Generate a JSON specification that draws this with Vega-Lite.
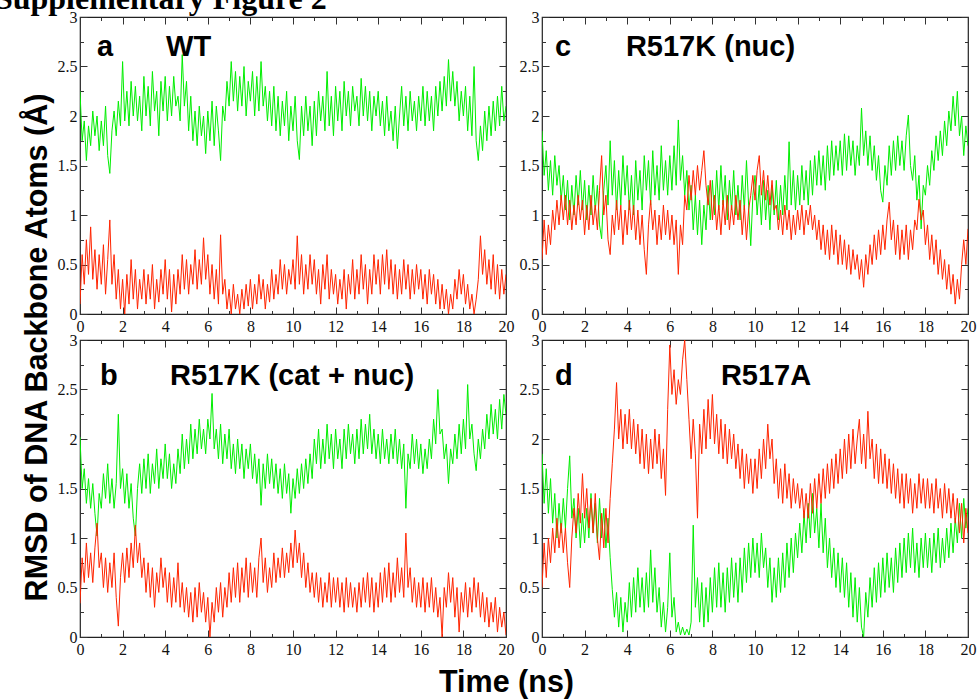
{
"$schema": "https://vega.github.io/schema/vega-lite/v6.json",
"background": "white",
"padding": {"left": -6, "top": -17, "right": 5, "bottom": 5},
"config": {
  "view": {"stroke": "#222", "strokeWidth": 1.2},
  "axis": {"domain": false, "grid": false, "labelFont": "Liberation Serif", "labelFontSize": 16, "labelColor": "#111", "tickColor": "#333", "tickWidth": 1, "labelFlush": false, "labelOverlap": false, "labelBound": false}
},
"datasets": {
"a": [
{"t":0,"g":2.25,"r":0.1},{"t":0.1,"g":1.75,"r":0.6},{"t":0.2,"g":1.95,"r":0.3},{"t":0.3,"g":1.55,"r":0.75},{"t":0.4,"g":1.9,"r":0.4},{"t":0.5,"g":1.7,"r":0.88},{"t":0.6,"g":2.05,"r":0.35},{"t":0.7,"g":1.8,"r":0.65},{"t":0.8,"g":2.0,"r":0.25},{"t":0.9,"g":1.65,"r":0.6},
{"t":1,"g":1.95,"r":0.3},{"t":1.1,"g":1.7,"r":0.7},{"t":1.2,"g":2.1,"r":0.2},{"t":1.3,"g":1.6,"r":0.55},{"t":1.4,"g":1.42,"r":0.95},{"t":1.5,"g":1.85,"r":0.3},{"t":1.6,"g":2.05,"r":0.6},{"t":1.7,"g":1.8,"r":0.15},{"t":1.8,"g":2.15,"r":0.45},{"t":1.9,"g":1.9,"r":0.05},
{"t":2,"g":2.55,"r":0.35},{"t":2.1,"g":1.95,"r":0.0},{"t":2.2,"g":2.25,"r":0.4},{"t":2.3,"g":1.9,"r":0.1},{"t":2.4,"g":2.35,"r":0.55},{"t":2.5,"g":2.0,"r":0.15},{"t":2.6,"g":2.3,"r":0.45},{"t":2.7,"g":1.95,"r":0.05},{"t":2.8,"g":2.2,"r":0.35},{"t":2.9,"g":1.85,"r":0.15},
{"t":3,"g":2.4,"r":0.45},{"t":3.1,"g":2.0,"r":0.1},{"t":3.2,"g":2.3,"r":0.4},{"t":3.3,"g":1.9,"r":0.15},{"t":3.4,"g":2.45,"r":0.5},{"t":3.5,"g":2.05,"r":0.05},{"t":3.6,"g":2.25,"r":0.35},{"t":3.7,"g":1.8,"r":0.12},{"t":3.8,"g":2.35,"r":0.45},{"t":3.9,"g":2.05,"r":0.2},
{"t":4,"g":2.4,"r":0.55},{"t":4.1,"g":1.95,"r":0.15},{"t":4.2,"g":2.3,"r":0.45},{"t":4.3,"g":2.0,"r":0.02},{"t":4.4,"g":2.4,"r":0.4},{"t":4.5,"g":2.1,"r":0.1},{"t":4.6,"g":2.2,"r":0.45},{"t":4.7,"g":1.95,"r":0.2},{"t":4.8,"g":2.62,"r":0.6},{"t":4.9,"g":2.1,"r":0.25},
{"t":5,"g":2.35,"r":0.55},{"t":5.1,"g":1.85,"r":0.2},{"t":5.2,"g":2.2,"r":0.5},{"t":5.3,"g":1.75,"r":0.3},{"t":5.4,"g":2.05,"r":0.65},{"t":5.5,"g":1.7,"r":0.25},{"t":5.6,"g":2.1,"r":0.55},{"t":5.7,"g":1.8,"r":0.3},{"t":5.8,"g":2.0,"r":0.77},{"t":5.9,"g":1.62,"r":0.35},
{"t":6,"g":2.05,"r":0.6},{"t":6.1,"g":1.75,"r":0.2},{"t":6.2,"g":2.15,"r":0.5},{"t":6.3,"g":1.7,"r":0.15},{"t":6.4,"g":2.1,"r":0.45},{"t":6.5,"g":1.85,"r":0.1},{"t":6.6,"g":1.55,"r":0.8},{"t":6.7,"g":2.1,"r":0.2},{"t":6.8,"g":1.95,"r":0.35},{"t":6.9,"g":2.35,"r":0.05},
{"t":7,"g":2.1,"r":0.25},{"t":7.1,"g":2.55,"r":0.0},{"t":7.2,"g":2.15,"r":0.3},{"t":7.3,"g":2.45,"r":0.05},{"t":7.4,"g":2.05,"r":0.2},{"t":7.5,"g":2.4,"r":0.0},{"t":7.6,"g":2.1,"r":0.25},{"t":7.7,"g":2.5,"r":0.05},{"t":7.8,"g":2.0,"r":0.3},{"t":7.9,"g":2.35,"r":0.08},
{"t":8,"g":2.15,"r":0.35},{"t":8.1,"g":2.45,"r":0.05},{"t":8.2,"g":2.0,"r":0.3},{"t":8.3,"g":2.4,"r":0.1},{"t":8.4,"g":2.05,"r":0.4},{"t":8.5,"g":2.55,"r":0.15},{"t":8.6,"g":2.1,"r":0.35},{"t":8.7,"g":2.3,"r":0.05},{"t":8.8,"g":1.95,"r":0.3},{"t":8.9,"g":2.25,"r":0.12},
{"t":9,"g":1.9,"r":0.45},{"t":9.1,"g":2.3,"r":0.15},{"t":9.2,"g":1.85,"r":0.4},{"t":9.3,"g":2.2,"r":0.2},{"t":9.4,"g":1.8,"r":0.55},{"t":9.5,"g":2.15,"r":0.25},{"t":9.6,"g":1.9,"r":0.5},{"t":9.7,"g":2.25,"r":0.2},{"t":9.8,"g":1.75,"r":0.45},{"t":9.9,"g":2.1,"r":0.3},
{"t":10,"g":1.85,"r":0.55},{"t":10.1,"g":2.2,"r":0.25},{"t":10.2,"g":1.75,"r":0.79},{"t":10.3,"g":1.56,"r":0.3},{"t":10.4,"g":2.1,"r":0.6},{"t":10.5,"g":1.8,"r":0.2},{"t":10.6,"g":2.2,"r":0.5},{"t":10.7,"g":1.85,"r":0.25},{"t":10.8,"g":2.1,"r":0.6},{"t":10.9,"g":1.7,"r":0.3},
{"t":11,"g":2.15,"r":0.55},{"t":11.1,"g":1.8,"r":0.2},{"t":11.2,"g":2.25,"r":0.45},{"t":11.3,"g":1.95,"r":0.1},{"t":11.4,"g":2.2,"r":0.5},{"t":11.5,"g":1.85,"r":0.25},{"t":11.6,"g":2.45,"r":0.6},{"t":11.7,"g":1.9,"r":0.15},{"t":11.8,"g":2.2,"r":0.45},{"t":11.9,"g":1.8,"r":0.2},
{"t":12,"g":2.3,"r":0.4},{"t":12.1,"g":1.95,"r":0.1},{"t":12.2,"g":2.25,"r":0.35},{"t":12.3,"g":1.85,"r":0.15},{"t":12.4,"g":2.35,"r":0.45},{"t":12.5,"g":2.0,"r":0.05},{"t":12.6,"g":2.25,"r":0.4},{"t":12.7,"g":1.9,"r":0.2},{"t":12.8,"g":2.3,"r":0.55},{"t":12.9,"g":2.05,"r":0.15},
{"t":13,"g":2.2,"r":0.45},{"t":13.1,"g":1.9,"r":0.2},{"t":13.2,"g":2.38,"r":0.6},{"t":13.3,"g":2.0,"r":0.25},{"t":13.4,"g":2.3,"r":0.5},{"t":13.5,"g":1.95,"r":0.1},{"t":13.6,"g":2.25,"r":0.45},{"t":13.7,"g":1.85,"r":0.2},{"t":13.8,"g":2.2,"r":0.6},{"t":13.9,"g":2.0,"r":0.3},
{"t":14,"g":2.25,"r":0.55},{"t":14.1,"g":1.9,"r":0.2},{"t":14.2,"g":2.15,"r":0.6},{"t":14.3,"g":1.8,"r":0.3},{"t":14.4,"g":2.2,"r":0.65},{"t":14.5,"g":1.85,"r":0.25},{"t":14.6,"g":2.05,"r":0.55},{"t":14.7,"g":1.75,"r":0.2},{"t":14.8,"g":2.1,"r":0.5},{"t":14.9,"g":1.67,"r":0.15},
{"t":15,"g":2.0,"r":0.45},{"t":15.1,"g":2.3,"r":0.2},{"t":15.2,"g":1.9,"r":0.55},{"t":15.3,"g":2.2,"r":0.25},{"t":15.4,"g":1.85,"r":0.5},{"t":15.5,"g":2.25,"r":0.15},{"t":15.6,"g":1.95,"r":0.45},{"t":15.7,"g":2.15,"r":0.2},{"t":15.8,"g":1.85,"r":0.5},{"t":15.9,"g":2.2,"r":0.25},
{"t":16,"g":1.95,"r":0.45},{"t":16.1,"g":2.3,"r":0.15},{"t":16.2,"g":1.9,"r":0.4},{"t":16.3,"g":2.25,"r":0.1},{"t":16.4,"g":1.95,"r":0.45},{"t":16.5,"g":2.2,"r":0.2},{"t":16.6,"g":1.85,"r":0.4},{"t":16.7,"g":2.3,"r":0.1},{"t":16.8,"g":2.0,"r":0.35},{"t":16.9,"g":2.35,"r":0.05},
{"t":17,"g":2.05,"r":0.3},{"t":17.1,"g":2.4,"r":0.05},{"t":17.2,"g":2.1,"r":0.25},{"t":17.3,"g":2.57,"r":0.0},{"t":17.4,"g":2.15,"r":0.2},{"t":17.5,"g":2.45,"r":0.05},{"t":17.6,"g":2.1,"r":0.35},{"t":17.7,"g":2.35,"r":0.15},{"t":17.8,"g":1.95,"r":0.45},{"t":17.9,"g":2.25,"r":0.2},
{"t":18,"g":2.0,"r":0.4},{"t":18.1,"g":2.3,"r":0.1},{"t":18.2,"g":1.85,"r":0.3},{"t":18.3,"g":2.2,"r":0.05},{"t":18.4,"g":1.8,"r":0.2},{"t":18.5,"g":2.5,"r":0.0},{"t":18.6,"g":1.75,"r":0.15},{"t":18.7,"g":1.55,"r":0.35},{"t":18.8,"g":1.9,"r":0.79},{"t":18.9,"g":1.65,"r":0.4},
{"t":19,"g":2.05,"r":0.65},{"t":19.1,"g":1.75,"r":0.3},{"t":19.2,"g":2.1,"r":0.55},{"t":19.3,"g":1.8,"r":0.25},{"t":19.4,"g":2.15,"r":0.6},{"t":19.5,"g":1.85,"r":0.2},{"t":19.6,"g":2.2,"r":0.5},{"t":19.7,"g":1.9,"r":0.15},{"t":19.8,"g":2.3,"r":0.45},{"t":19.9,"g":1.95,"r":0.2},
{"t":20,"g":2.1,"r":0.4}
],
"b": [
{"t":0,"g":2.02,"r":0.34},{"t":0.1,"g":1.5,"r":0.8},{"t":0.2,"g":1.7,"r":0.55},{"t":0.3,"g":1.35,"r":0.95},{"t":0.4,"g":1.6,"r":0.6},{"t":0.5,"g":1.3,"r":0.85},{"t":0.6,"g":1.55,"r":0.55},{"t":0.7,"g":1.25,"r":0.9},{"t":0.8,"g":1.02,"r":1.15},{"t":0.9,"g":1.45,"r":0.7},
{"t":1,"g":1.3,"r":0.85},{"t":1.1,"g":1.65,"r":0.5},{"t":1.2,"g":1.4,"r":0.8},{"t":1.3,"g":1.75,"r":0.45},{"t":1.4,"g":1.35,"r":0.75},{"t":1.5,"g":1.6,"r":0.5},{"t":1.6,"g":1.3,"r":0.85},{"t":1.7,"g":1.55,"r":0.4},{"t":1.8,"g":2.25,"r":0.11},{"t":1.9,"g":1.5,"r":0.6},
{"t":2,"g":1.7,"r":0.85},{"t":2.1,"g":1.35,"r":0.55},{"t":2.2,"g":1.65,"r":0.9},{"t":2.3,"g":1.3,"r":0.6},{"t":2.4,"g":1.55,"r":0.95},{"t":2.5,"g":1.2,"r":0.7},{"t":2.6,"g":1.02,"r":1.13},{"t":2.7,"g":1.5,"r":0.75},{"t":2.8,"g":1.75,"r":0.95},{"t":2.9,"g":1.45,"r":0.6},
{"t":3,"g":1.8,"r":0.8},{"t":3.1,"g":1.5,"r":0.45},{"t":3.2,"g":1.85,"r":0.75},{"t":3.3,"g":1.45,"r":0.4},{"t":3.4,"g":1.75,"r":0.7},{"t":3.5,"g":1.55,"r":0.3},{"t":3.6,"g":1.9,"r":0.65},{"t":3.7,"g":1.5,"r":0.45},{"t":3.8,"g":1.8,"r":0.8},{"t":3.9,"g":1.6,"r":0.5},
{"t":4,"g":1.95,"r":0.7},{"t":4.1,"g":1.6,"r":0.35},{"t":4.2,"g":1.85,"r":0.65},{"t":4.3,"g":1.5,"r":0.3},{"t":4.4,"g":1.75,"r":0.6},{"t":4.5,"g":1.55,"r":0.35},{"t":4.6,"g":1.9,"r":0.75},{"t":4.7,"g":1.65,"r":0.3},{"t":4.8,"g":2.05,"r":0.55},{"t":4.9,"g":1.7,"r":0.25},
{"t":5,"g":2.0,"r":0.5},{"t":5.1,"g":1.75,"r":0.2},{"t":5.2,"g":2.15,"r":0.45},{"t":5.3,"g":1.8,"r":0.15},{"t":5.4,"g":2.1,"r":0.5},{"t":5.5,"g":1.85,"r":0.2},{"t":5.6,"g":2.2,"r":0.55},{"t":5.7,"g":1.9,"r":0.25},{"t":5.8,"g":2.1,"r":0.45},{"t":5.9,"g":1.85,"r":0.15},
{"t":6,"g":2.2,"r":0.4},{"t":6.1,"g":2.0,"r":0.0},{"t":6.2,"g":2.46,"r":0.35},{"t":6.3,"g":1.9,"r":0.15},{"t":6.4,"g":2.1,"r":0.5},{"t":6.5,"g":1.8,"r":0.25},{"t":6.6,"g":2.15,"r":0.55},{"t":6.7,"g":1.75,"r":0.2},{"t":6.8,"g":2.05,"r":0.5},{"t":6.9,"g":1.8,"r":0.3},
{"t":7,"g":2.1,"r":0.65},{"t":7.1,"g":1.7,"r":0.35},{"t":7.2,"g":1.95,"r":0.7},{"t":7.3,"g":1.65,"r":0.4},{"t":7.4,"g":2.0,"r":0.75},{"t":7.5,"g":1.7,"r":0.35},{"t":7.6,"g":1.95,"r":0.7},{"t":7.7,"g":1.6,"r":0.45},{"t":7.8,"g":1.9,"r":0.8},{"t":7.9,"g":1.7,"r":0.4},
{"t":8,"g":1.95,"r":0.75},{"t":8.1,"g":1.6,"r":0.45},{"t":8.2,"g":1.85,"r":0.7},{"t":8.3,"g":1.55,"r":0.4},{"t":8.4,"g":1.8,"r":0.8},{"t":8.5,"g":1.33,"r":1.0},{"t":8.6,"g":1.75,"r":0.55},{"t":8.7,"g":1.5,"r":0.8},{"t":8.8,"g":1.85,"r":0.45},{"t":8.9,"g":1.55,"r":0.7},
{"t":9,"g":1.8,"r":0.5},{"t":9.1,"g":1.5,"r":0.85},{"t":9.2,"g":1.75,"r":0.55},{"t":9.3,"g":1.45,"r":0.8},{"t":9.4,"g":1.7,"r":0.6},{"t":9.5,"g":1.4,"r":0.9},{"t":9.6,"g":1.75,"r":0.6},{"t":9.7,"g":1.45,"r":0.85},{"t":9.8,"g":1.65,"r":0.65},{"t":9.9,"g":1.25,"r":0.95},
{"t":10,"g":1.6,"r":0.7},{"t":10.1,"g":1.4,"r":1.08},{"t":10.2,"g":1.7,"r":0.75},{"t":10.3,"g":1.45,"r":0.95},{"t":10.4,"g":1.75,"r":0.6},{"t":10.5,"g":1.5,"r":0.85},{"t":10.6,"g":1.8,"r":0.5},{"t":10.7,"g":1.55,"r":0.75},{"t":10.8,"g":1.85,"r":0.45},{"t":10.9,"g":1.6,"r":0.65},
{"t":11,"g":2.0,"r":0.4},{"t":11.1,"g":1.75,"r":0.65},{"t":11.2,"g":2.1,"r":0.35},{"t":11.3,"g":1.7,"r":0.6},{"t":11.4,"g":2.0,"r":0.3},{"t":11.5,"g":1.75,"r":0.55},{"t":11.6,"g":2.15,"r":0.35},{"t":11.7,"g":1.8,"r":0.65},{"t":11.8,"g":2.05,"r":0.3},{"t":11.9,"g":1.7,"r":0.6},
{"t":12,"g":2.1,"r":0.35},{"t":12.1,"g":1.8,"r":0.6},{"t":12.2,"g":2.0,"r":0.3},{"t":12.3,"g":1.7,"r":0.55},{"t":12.4,"g":2.1,"r":0.25},{"t":12.5,"g":1.8,"r":0.6},{"t":12.6,"g":2.15,"r":0.3},{"t":12.7,"g":1.85,"r":0.55},{"t":12.8,"g":2.05,"r":0.3},{"t":12.9,"g":1.75,"r":0.5},
{"t":13,"g":2.1,"r":0.25},{"t":13.1,"g":1.8,"r":0.55},{"t":13.2,"g":2.2,"r":0.3},{"t":13.3,"g":1.85,"r":0.6},{"t":13.4,"g":2.15,"r":0.35},{"t":13.5,"g":1.9,"r":0.65},{"t":13.6,"g":2.25,"r":0.3},{"t":13.7,"g":1.85,"r":0.6},{"t":13.8,"g":2.1,"r":0.25},{"t":13.9,"g":1.8,"r":0.55},
{"t":14,"g":2.05,"r":0.3},{"t":14.1,"g":1.75,"r":0.65},{"t":14.2,"g":2.1,"r":0.35},{"t":14.3,"g":1.8,"r":0.7},{"t":14.4,"g":2.0,"r":0.4},{"t":14.5,"g":1.75,"r":0.75},{"t":14.6,"g":2.05,"r":0.35},{"t":14.7,"g":1.8,"r":0.65},{"t":14.8,"g":2.1,"r":0.4},{"t":14.9,"g":1.75,"r":0.8},
{"t":15,"g":2.0,"r":0.45},{"t":15.1,"g":1.7,"r":0.7},{"t":15.2,"g":1.95,"r":0.4},{"t":15.3,"g":1.3,"r":1.05},{"t":15.4,"g":1.85,"r":0.5},{"t":15.5,"g":1.7,"r":0.7},{"t":15.6,"g":2.05,"r":0.35},{"t":15.7,"g":1.75,"r":0.6},{"t":15.8,"g":2.0,"r":0.3},{"t":15.9,"g":1.7,"r":0.55},
{"t":16,"g":1.95,"r":0.3},{"t":16.1,"g":1.65,"r":0.6},{"t":16.2,"g":1.9,"r":0.25},{"t":16.3,"g":1.7,"r":0.55},{"t":16.4,"g":2.0,"r":0.3},{"t":16.5,"g":1.8,"r":0.6},{"t":16.6,"g":2.2,"r":0.25},{"t":16.7,"g":1.95,"r":0.5},{"t":16.8,"g":2.5,"r":0.2},{"t":16.9,"g":2.05,"r":0.4},
{"t":17,"g":2.1,"r":0.0},{"t":17.1,"g":1.8,"r":0.5},{"t":17.2,"g":1.95,"r":0.3},{"t":17.3,"g":1.55,"r":0.65},{"t":17.4,"g":1.9,"r":0.35},{"t":17.5,"g":1.75,"r":0.6},{"t":17.6,"g":2.05,"r":0.2},{"t":17.7,"g":1.8,"r":0.5},{"t":17.8,"g":2.15,"r":0.05},{"t":17.9,"g":1.85,"r":0.45},
{"t":18,"g":2.2,"r":0.25},{"t":18.1,"g":1.9,"r":0.55},{"t":18.2,"g":2.55,"r":0.2},{"t":18.3,"g":2.0,"r":0.5},{"t":18.4,"g":2.15,"r":0.25},{"t":18.5,"g":1.85,"r":0.6},{"t":18.6,"g":1.68,"r":0.3},{"t":18.7,"g":2.0,"r":0.55},{"t":18.8,"g":1.8,"r":0.2},{"t":18.9,"g":2.1,"r":0.45},
{"t":19,"g":1.9,"r":0.15},{"t":19.1,"g":2.25,"r":0.4},{"t":19.2,"g":2.0,"r":0.1},{"t":19.3,"g":2.35,"r":0.35},{"t":19.4,"g":2.05,"r":0.15},{"t":19.5,"g":2.3,"r":0.4},{"t":19.6,"g":2.0,"r":0.05},{"t":19.7,"g":2.4,"r":0.3},{"t":19.8,"g":2.1,"r":0.1},{"t":19.9,"g":2.45,"r":0.25},
{"t":20,"g":2.25,"r":0.02}
],
"c": [
{"t":0,"g":1.85,"r":0.55},{"t":0.1,"g":1.4,"r":0.95},{"t":0.2,"g":1.65,"r":0.6},{"t":0.3,"g":1.25,"r":0.9},{"t":0.4,"g":1.55,"r":0.7},{"t":0.5,"g":1.2,"r":1.05},{"t":0.6,"g":1.6,"r":0.85},{"t":0.7,"g":1.3,"r":1.15},{"t":0.8,"g":1.5,"r":0.9},{"t":0.9,"g":1.15,"r":1.2},
{"t":1,"g":1.4,"r":0.95},{"t":1.1,"g":1.05,"r":1.2},{"t":1.2,"g":1.35,"r":0.9},{"t":1.3,"g":0.95,"r":1.15},{"t":1.4,"g":1.3,"r":0.85},{"t":1.5,"g":1.0,"r":1.1},{"t":1.6,"g":1.4,"r":0.9},{"t":1.7,"g":1.1,"r":1.2},{"t":1.8,"g":1.45,"r":0.95},{"t":1.9,"g":1.05,"r":1.15},
{"t":2,"g":1.35,"r":0.8},{"t":2.1,"g":0.95,"r":1.1},{"t":2.2,"g":1.3,"r":0.85},{"t":2.3,"g":1.0,"r":1.2},{"t":2.4,"g":1.4,"r":0.9},{"t":2.5,"g":1.05,"r":1.1},{"t":2.6,"g":1.3,"r":0.85},{"t":2.7,"g":0.9,"r":1.25},{"t":2.8,"g":0.76,"r":1.6},{"t":2.9,"g":1.25,"r":1.0},
{"t":3,"g":1.5,"r":1.2},{"t":3.1,"g":1.1,"r":0.75},{"t":3.2,"g":1.75,"r":0.6},{"t":3.3,"g":1.2,"r":1.0},{"t":3.4,"g":1.55,"r":0.8},{"t":3.5,"g":1.05,"r":1.15},{"t":3.6,"g":1.45,"r":0.85},{"t":3.7,"g":1.1,"r":1.1},{"t":3.8,"g":1.6,"r":0.7},{"t":3.9,"g":1.2,"r":1.05},
{"t":4,"g":1.5,"r":0.8},{"t":4.1,"g":1.05,"r":1.15},{"t":4.2,"g":1.4,"r":0.85},{"t":4.3,"g":1.0,"r":1.1},{"t":4.4,"g":1.55,"r":0.75},{"t":4.5,"g":1.15,"r":1.05},{"t":4.6,"g":1.45,"r":0.7},{"t":4.7,"g":1.05,"r":1.0},{"t":4.8,"g":1.6,"r":0.65},{"t":4.9,"g":1.25,"r":0.4},
{"t":5,"g":1.55,"r":0.9},{"t":5.1,"g":1.1,"r":1.15},{"t":5.2,"g":1.65,"r":0.85},{"t":5.3,"g":1.2,"r":1.05},{"t":5.4,"g":1.5,"r":0.7},{"t":5.5,"g":1.15,"r":1.0},{"t":5.6,"g":1.7,"r":0.75},{"t":5.7,"g":1.25,"r":1.1},{"t":5.8,"g":1.55,"r":0.8},{"t":5.9,"g":1.2,"r":1.05},
{"t":6,"g":1.6,"r":0.75},{"t":6.1,"g":1.25,"r":1.0},{"t":6.2,"g":1.7,"r":0.7},{"t":6.3,"g":1.3,"r":0.95},{"t":6.4,"g":1.96,"r":0.4},{"t":6.5,"g":1.35,"r":0.9},{"t":6.6,"g":1.6,"r":0.7},{"t":6.7,"g":1.2,"r":1.2},{"t":6.8,"g":1.45,"r":1.05},{"t":6.9,"g":1.05,"r":1.4},
{"t":7,"g":1.3,"r":1.15},{"t":7.1,"g":0.85,"r":1.45},{"t":7.2,"g":1.2,"r":1.2},{"t":7.3,"g":0.8,"r":1.5},{"t":7.4,"g":1.15,"r":1.25},{"t":7.5,"g":0.7,"r":1.45},{"t":7.6,"g":1.1,"r":1.65},{"t":7.7,"g":0.85,"r":1.3},{"t":7.8,"g":1.3,"r":1.1},{"t":7.9,"g":0.95,"r":1.35},
{"t":8,"g":1.35,"r":0.95},{"t":8.1,"g":1.0,"r":1.2},{"t":8.2,"g":1.45,"r":0.85},{"t":8.3,"g":1.05,"r":1.1},{"t":8.4,"g":1.5,"r":0.8},{"t":8.5,"g":1.1,"r":1.15},{"t":8.6,"g":1.4,"r":0.9},{"t":8.7,"g":0.95,"r":1.2},{"t":8.8,"g":1.35,"r":0.85},{"t":8.9,"g":1.05,"r":1.1},
{"t":9,"g":1.45,"r":0.9},{"t":9.1,"g":1.0,"r":1.2},{"t":9.2,"g":1.3,"r":0.95},{"t":9.3,"g":0.95,"r":1.15},{"t":9.4,"g":1.4,"r":0.8},{"t":9.5,"g":1.05,"r":1.1},{"t":9.6,"g":1.55,"r":0.75},{"t":9.7,"g":1.1,"r":1.05},{"t":9.8,"g":0.69,"r":1.2},{"t":9.9,"g":1.2,"r":1.4},
{"t":10,"g":1.4,"r":1.15},{"t":10.1,"g":1.0,"r":1.45},{"t":10.2,"g":1.3,"r":1.6},{"t":10.3,"g":0.9,"r":1.2},{"t":10.4,"g":1.35,"r":1.45},{"t":10.5,"g":0.95,"r":1.15},{"t":10.6,"g":1.25,"r":1.4},{"t":10.7,"g":0.85,"r":1.1},{"t":10.8,"g":1.3,"r":1.35},{"t":10.9,"g":1.0,"r":1.05},
{"t":11,"g":1.35,"r":1.1},{"t":11.1,"g":0.95,"r":0.85},{"t":11.2,"g":1.3,"r":1.05},{"t":11.3,"g":1.0,"r":0.8},{"t":11.4,"g":1.4,"r":1.1},{"t":11.5,"g":1.05,"r":0.85},{"t":11.6,"g":1.74,"r":1.05},{"t":11.7,"g":1.1,"r":0.75},{"t":11.8,"g":1.45,"r":1.0},{"t":11.9,"g":1.05,"r":0.8},
{"t":12,"g":1.4,"r":1.05},{"t":12.1,"g":1.1,"r":0.85},{"t":12.2,"g":1.5,"r":1.1},{"t":12.3,"g":1.15,"r":0.8},{"t":12.4,"g":1.45,"r":1.05},{"t":12.5,"g":1.1,"r":0.9},{"t":12.6,"g":1.55,"r":1.1},{"t":12.7,"g":1.2,"r":0.85},{"t":12.8,"g":1.6,"r":1.0},{"t":12.9,"g":1.3,"r":0.75},
{"t":13,"g":1.65,"r":0.95},{"t":13.1,"g":1.3,"r":0.65},{"t":13.2,"g":1.6,"r":0.9},{"t":13.3,"g":1.25,"r":0.6},{"t":13.4,"g":1.7,"r":0.85},{"t":13.5,"g":1.35,"r":0.55},{"t":13.6,"g":1.75,"r":0.9},{"t":13.7,"g":1.4,"r":0.6},{"t":13.8,"g":1.7,"r":0.85},{"t":13.9,"g":1.45,"r":0.5},
{"t":14,"g":1.75,"r":0.8},{"t":14.1,"g":1.4,"r":0.5},{"t":14.2,"g":1.82,"r":0.75},{"t":14.3,"g":1.45,"r":0.45},{"t":14.4,"g":1.8,"r":0.7},{"t":14.5,"g":1.5,"r":0.4},{"t":14.6,"g":1.75,"r":0.65},{"t":14.7,"g":1.4,"r":0.45},{"t":14.8,"g":1.7,"r":0.6},{"t":14.9,"g":1.5,"r":0.35},
{"t":15,"g":2.08,"r":0.55},{"t":15.1,"g":1.6,"r":0.27},{"t":15.2,"g":1.85,"r":0.6},{"t":15.3,"g":1.5,"r":0.4},{"t":15.4,"g":1.8,"r":0.7},{"t":15.5,"g":1.45,"r":0.5},{"t":15.6,"g":1.7,"r":0.8},{"t":15.7,"g":1.35,"r":0.55},{"t":15.8,"g":1.6,"r":0.85},{"t":15.9,"g":1.25,"r":0.6},
{"t":16,"g":1.13,"r":0.9},{"t":16.1,"g":1.5,"r":0.65},{"t":16.2,"g":1.3,"r":0.95},{"t":16.3,"g":1.7,"r":1.13},{"t":16.4,"g":1.4,"r":0.75},{"t":16.5,"g":1.75,"r":0.95},{"t":16.6,"g":1.45,"r":0.6},{"t":16.7,"g":1.8,"r":0.9},{"t":16.8,"g":1.5,"r":0.55},{"t":16.9,"g":1.75,"r":0.85},
{"t":17,"g":1.45,"r":0.6},{"t":17.1,"g":1.8,"r":0.9},{"t":17.2,"g":2.01,"r":0.55},{"t":17.3,"g":1.5,"r":0.85},{"t":17.4,"g":1.35,"r":0.65},{"t":17.5,"g":1.6,"r":0.95},{"t":17.6,"g":1.15,"r":0.85},{"t":17.7,"g":1.4,"r":1.16},{"t":17.8,"g":0.86,"r":0.95},{"t":17.9,"g":1.3,"r":1.05},
{"t":18,"g":1.2,"r":0.7},{"t":18.1,"g":1.5,"r":0.9},{"t":18.2,"g":1.3,"r":0.55},{"t":18.3,"g":1.65,"r":0.8},{"t":18.4,"g":1.45,"r":0.5},{"t":18.5,"g":1.8,"r":0.75},{"t":18.6,"g":1.55,"r":0.4},{"t":18.7,"g":1.85,"r":0.65},{"t":18.8,"g":1.6,"r":0.35},{"t":18.9,"g":1.95,"r":0.55},
{"t":19,"g":1.7,"r":0.25},{"t":19.1,"g":2.05,"r":0.5},{"t":19.2,"g":1.85,"r":0.2},{"t":19.3,"g":2.2,"r":0.4},{"t":19.4,"g":1.9,"r":0.1},{"t":19.5,"g":2.25,"r":0.35},{"t":19.6,"g":1.8,"r":0.15},{"t":19.7,"g":2.0,"r":0.5},{"t":19.8,"g":1.6,"r":0.75},{"t":19.9,"g":1.9,"r":0.5},
{"t":20,"g":1.7,"r":0.86}
],
"d": [
{"t":0,"g":1.85,"r":0.5},{"t":0.1,"g":1.35,"r":0.95},{"t":0.2,"g":1.7,"r":0.6},{"t":0.3,"g":1.25,"r":1.0},{"t":0.4,"g":1.6,"r":0.75},{"t":0.5,"g":1.15,"r":1.1},{"t":0.6,"g":1.45,"r":0.85},{"t":0.7,"g":1.0,"r":1.2},{"t":0.8,"g":1.35,"r":0.9},{"t":0.9,"g":1.05,"r":1.15},
{"t":1,"g":1.4,"r":0.85},{"t":1.1,"g":1.1,"r":1.1},{"t":1.2,"g":1.5,"r":0.75},{"t":1.3,"g":1.83,"r":0.5},{"t":1.4,"g":1.2,"r":1.0},{"t":1.5,"g":1.4,"r":1.3},{"t":1.6,"g":1.0,"r":1.05},{"t":1.7,"g":1.3,"r":1.45},{"t":1.8,"g":0.9,"r":1.15},{"t":1.9,"g":1.25,"r":1.65},
{"t":2,"g":0.95,"r":1.2},{"t":2.1,"g":1.3,"r":1.5},{"t":2.2,"g":1.0,"r":1.1},{"t":2.3,"g":1.45,"r":1.4},{"t":2.4,"g":1.05,"r":1.05},{"t":2.5,"g":1.35,"r":1.45},{"t":2.6,"g":0.95,"r":1.0},{"t":2.7,"g":1.4,"r":0.78},{"t":2.8,"g":1.0,"r":1.25},{"t":2.9,"g":1.3,"r":0.9},
{"t":3,"g":0.9,"r":1.3},{"t":3.1,"g":1.2,"r":0.95},{"t":3.2,"g":0.8,"r":1.4},{"t":3.3,"g":0.48,"r":1.75},{"t":3.4,"g":0.2,"r":2.1},{"t":3.5,"g":0.45,"r":2.57},{"t":3.6,"g":0.1,"r":2.0},{"t":3.7,"g":0.4,"r":2.3},{"t":3.8,"g":0.05,"r":1.9},{"t":3.9,"g":0.35,"r":2.25},
{"t":4,"g":0.15,"r":1.95},{"t":4.1,"g":0.55,"r":2.3},{"t":4.2,"g":0.2,"r":1.9},{"t":4.3,"g":0.6,"r":2.2},{"t":4.4,"g":0.25,"r":1.85},{"t":4.5,"g":0.7,"r":2.15},{"t":4.6,"g":0.3,"r":1.75},{"t":4.7,"g":0.6,"r":2.1},{"t":4.8,"g":0.25,"r":1.7},{"t":4.9,"g":0.65,"r":2.05},
{"t":5,"g":0.3,"r":1.65},{"t":5.1,"g":0.88,"r":2.0},{"t":5.2,"g":0.35,"r":1.7},{"t":5.3,"g":0.7,"r":2.1},{"t":5.4,"g":0.25,"r":1.75},{"t":5.5,"g":0.5,"r":2.05},{"t":5.6,"g":0.1,"r":1.6},{"t":5.7,"g":0.35,"r":1.9},{"t":5.8,"g":0.05,"r":1.43},{"t":5.9,"g":0.3,"r":2.3},
{"t":6,"g":0.85,"r":2.95},{"t":6.1,"g":0.2,"r":2.45},{"t":6.2,"g":0.4,"r":2.7},{"t":6.3,"g":0.05,"r":2.35},{"t":6.4,"g":0.15,"r":2.6},{"t":6.5,"g":0.02,"r":2.45},{"t":6.6,"g":0.1,"r":2.8},{"t":6.7,"g":0.02,"r":3.0},{"t":6.8,"g":0.08,"r":2.6},{"t":6.9,"g":0.02,"r":2.2},
{"t":7,"g":0.15,"r":1.8},{"t":7.1,"g":1.13,"r":2.2},{"t":7.2,"g":0.3,"r":1.85},{"t":7.3,"g":0.6,"r":1.2},{"t":7.4,"g":0.15,"r":2.15},{"t":7.5,"g":0.55,"r":1.85},{"t":7.6,"g":0.1,"r":2.3},{"t":7.7,"g":0.5,"r":1.9},{"t":7.8,"g":0.15,"r":2.4},{"t":7.9,"g":0.6,"r":2.0},
{"t":8,"g":0.25,"r":2.45},{"t":8.1,"g":0.7,"r":1.95},{"t":8.2,"g":0.3,"r":2.25},{"t":8.3,"g":0.75,"r":1.85},{"t":8.4,"g":0.3,"r":2.2},{"t":8.5,"g":0.65,"r":1.8},{"t":8.6,"g":0.25,"r":2.15},{"t":8.7,"g":0.7,"r":1.75},{"t":8.8,"g":0.35,"r":2.1},{"t":8.9,"g":0.8,"r":1.8},
{"t":9,"g":0.4,"r":2.05},{"t":9.1,"g":0.75,"r":1.7},{"t":9.2,"g":0.35,"r":1.95},{"t":9.3,"g":0.8,"r":1.6},{"t":9.4,"g":0.45,"r":1.9},{"t":9.5,"g":0.9,"r":1.5},{"t":9.6,"g":0.55,"r":1.85},{"t":9.7,"g":0.95,"r":1.55},{"t":9.8,"g":0.6,"r":1.8},{"t":9.9,"g":1.0,"r":1.45},
{"t":10,"g":0.65,"r":1.8},{"t":10.1,"g":0.95,"r":1.5},{"t":10.2,"g":0.6,"r":1.9},{"t":10.3,"g":1.05,"r":1.6},{"t":10.4,"g":0.7,"r":2.0},{"t":10.5,"g":0.9,"r":1.7},{"t":10.6,"g":0.5,"r":2.15},{"t":10.7,"g":0.8,"r":1.8},{"t":10.8,"g":0.35,"r":2.0},{"t":10.9,"g":0.7,"r":1.55},
{"t":11,"g":0.4,"r":1.8},{"t":11.1,"g":0.8,"r":1.4},{"t":11.2,"g":0.45,"r":1.7},{"t":11.3,"g":0.85,"r":1.35},{"t":11.4,"g":0.5,"r":1.75},{"t":11.5,"g":0.95,"r":1.4},{"t":11.6,"g":0.6,"r":1.65},{"t":11.7,"g":1.0,"r":1.3},{"t":11.8,"g":0.65,"r":1.6},{"t":11.9,"g":1.05,"r":1.35},
{"t":12,"g":0.8,"r":1.55},{"t":12.1,"g":1.15,"r":1.3},{"t":12.2,"g":0.85,"r":1.5},{"t":12.3,"g":1.25,"r":1.2},{"t":12.4,"g":0.95,"r":1.45},{"t":12.5,"g":1.35,"r":1.2},{"t":12.6,"g":1.0,"r":1.55},{"t":12.7,"g":1.45,"r":1.25},{"t":12.8,"g":1.05,"r":1.6},{"t":12.9,"g":1.3,"r":1.3},
{"t":13,"g":0.9,"r":1.65},{"t":13.1,"g":1.35,"r":1.35},{"t":13.2,"g":0.85,"r":1.7},{"t":13.3,"g":1.2,"r":1.4},{"t":13.4,"g":0.7,"r":1.75},{"t":13.5,"g":1.0,"r":1.45},{"t":13.6,"g":0.6,"r":1.8},{"t":13.7,"g":0.9,"r":1.5},{"t":13.8,"g":0.5,"r":1.85},{"t":13.9,"g":0.85,"r":1.55},
{"t":14,"g":0.45,"r":1.9},{"t":14.1,"g":0.8,"r":1.6},{"t":14.2,"g":0.4,"r":2.0},{"t":14.3,"g":0.75,"r":1.65},{"t":14.4,"g":0.3,"r":2.05},{"t":14.5,"g":0.65,"r":1.7},{"t":14.6,"g":0.2,"r":2.1},{"t":14.7,"g":0.6,"r":1.75},{"t":14.8,"g":0.15,"r":2.0},{"t":14.9,"g":0.5,"r":2.2},
{"t":15,"g":0.1,"r":1.75},{"t":15.1,"g":0.0,"r":2.05},{"t":15.2,"g":0.45,"r":1.7},{"t":15.3,"g":0.2,"r":2.28},{"t":15.4,"g":0.6,"r":1.8},{"t":15.5,"g":0.3,"r":2.0},{"t":15.6,"g":0.7,"r":1.6},{"t":15.7,"g":0.35,"r":1.95},{"t":15.8,"g":0.75,"r":1.55},{"t":15.9,"g":0.4,"r":1.9},
{"t":16,"g":0.8,"r":1.55},{"t":16.1,"g":0.45,"r":1.85},{"t":16.2,"g":0.85,"r":1.5},{"t":16.3,"g":0.5,"r":1.8},{"t":16.4,"g":0.8,"r":1.45},{"t":16.5,"g":0.45,"r":1.75},{"t":16.6,"g":0.9,"r":1.4},{"t":16.7,"g":0.55,"r":1.7},{"t":16.8,"g":0.95,"r":1.35},{"t":16.9,"g":0.6,"r":1.65},
{"t":17,"g":1.0,"r":1.3},{"t":17.1,"g":0.65,"r":1.65},{"t":17.2,"g":1.05,"r":1.35},{"t":17.3,"g":0.7,"r":1.6},{"t":17.4,"g":1.1,"r":1.25},{"t":17.5,"g":0.65,"r":1.55},{"t":17.6,"g":0.95,"r":1.3},{"t":17.7,"g":0.6,"r":1.65},{"t":17.8,"g":1.0,"r":1.35},{"t":17.9,"g":0.7,"r":1.6},
{"t":18,"g":1.05,"r":1.3},{"t":18.1,"g":0.7,"r":1.6},{"t":18.2,"g":1.0,"r":1.3},{"t":18.3,"g":0.65,"r":1.55},{"t":18.4,"g":1.05,"r":1.25},{"t":18.5,"g":0.75,"r":1.6},{"t":18.6,"g":1.1,"r":1.3},{"t":18.7,"g":0.7,"r":1.5},{"t":18.8,"g":1.0,"r":1.2},{"t":18.9,"g":0.75,"r":1.55},
{"t":19,"g":1.1,"r":1.25},{"t":19.1,"g":0.8,"r":1.5},{"t":19.2,"g":1.15,"r":1.2},{"t":19.3,"g":0.85,"r":1.45},{"t":19.4,"g":1.2,"r":1.15},{"t":19.5,"g":0.95,"r":1.4},{"t":19.6,"g":1.35,"r":1.05},{"t":19.7,"g":1.0,"r":1.35},{"t":19.8,"g":1.4,"r":0.95},{"t":19.9,"g":1.1,"r":1.3},
{"t":20,"g":1.3,"r":1.05}
]
},
"title": {"text": "Supplementary Figure 2", "anchor": "start", "font": "Liberation Serif", "fontSize": 32, "fontWeight": "bold", "color": "#000", "offset": -8, "dx": -28},
"vconcat": [
{"title": {"text": "RMSD of DNA Backbone Atoms (Å)", "orient": "left", "anchor": "middle", "font": "Liberation Sans", "fontSize": 30.5, "fontWeight": "bold", "color": "#000", "offset": 3, "dx": 6},
 "vconcat": [
 {"title": {"text": "Time (ns)", "orient": "bottom", "anchor": "middle", "font": "Liberation Sans", "fontSize": 30.5, "fontWeight": "bold", "color": "#000", "offset": 7, "dx": -10},
  "columns": 2, "spacing": {"row": 26, "column": 36}, "bounds": "flush",
  "concat": [
   {"width": 426, "height": 297, "data": {"name": "a"},
    "layer": [
     {"mark": {"type": "line", "color": "#00ee00", "strokeWidth": 1, "clip": true},
      "encoding": {
       "x": {"field": "t", "type": "quantitative", "scale": {"domain": [0, 20], "nice": false}, "axis": {"orient": "bottom", "title": null, "values": [0,1,2,3,4,5,6,7,8,9,10,11,12,13,14,15,16,17,18,19,20], "format": "~g", "labelExpr": "datum.value % 2 === 0 ? datum.label : ''", "tickSize": {"condition": {"test": "datum.value % 2 === 0", "value": -7}, "value": -3.5}, "labelPadding": 11}},
       "y": {"field": "g", "type": "quantitative", "scale": {"domain": [0, 3], "nice": false}, "axis": {"orient": "left", "title": null, "values": [0,0.25,0.5,0.75,1,1.25,1.5,1.75,2,2.25,2.5,2.75,3], "format": "~g", "labelExpr": "datum.value % 0.5 === 0 ? datum.label : ''", "tickSize": {"condition": {"test": "datum.value % 0.5 === 0", "value": -7}, "value": -3.5}, "labelPadding": 10}}}},
     {"mark": {"type": "line", "color": "#ff2400", "strokeWidth": 1, "clip": true},
      "encoding": {
       "x": {"field": "t", "type": "quantitative", "axis": {"orient": "top", "title": null, "labels": false, "values": [0,1,2,3,4,5,6,7,8,9,10,11,12,13,14,15,16,17,18,19,20], "tickSize": {"condition": {"test": "datum.value % 2 === 0", "value": -7}, "value": -3.5}}},
       "y": {"field": "r", "type": "quantitative", "axis": {"orient": "right", "title": null, "labels": false, "values": [0,0.25,0.5,0.75,1,1.25,1.5,1.75,2,2.25,2.5,2.75,3], "tickSize": {"condition": {"test": "datum.value % 0.5 === 0", "value": -7}, "value": -3.5}}}}},
     {"data": {"values": [{"s": "a"}]}, "mark": {"type": "text", "align": "left", "baseline": "alphabetic", "font": "Liberation Sans", "fontSize": 29, "fontWeight": "bold", "color": "#000"},
      "encoding": {"x": {"datum": 0.8, "type": "quantitative", "axis": null}, "y": {"datum": 2.61, "type": "quantitative", "axis": null}, "text": {"field": "s"}}},
     {"data": {"values": [{"s": "WT"}]}, "mark": {"type": "text", "align": "left", "baseline": "alphabetic", "font": "Liberation Sans", "fontSize": 29, "fontWeight": "bold", "color": "#000"},
      "encoding": {"x": {"datum": 4.04, "type": "quantitative", "axis": null}, "y": {"datum": 2.61, "type": "quantitative", "axis": null}, "text": {"field": "s"}}}
    ],
    "resolve": {"axis": {"x": "independent", "y": "independent"}}},
   {"width": 426, "height": 297, "data": {"name": "c"},
    "layer": [
     {"mark": {"type": "line", "color": "#00ee00", "strokeWidth": 1, "clip": true},
      "encoding": {
       "x": {"field": "t", "type": "quantitative", "scale": {"domain": [0, 20], "nice": false}, "axis": {"orient": "bottom", "title": null, "values": [0,1,2,3,4,5,6,7,8,9,10,11,12,13,14,15,16,17,18,19,20], "format": "~g", "labelExpr": "datum.value % 2 === 0 ? datum.label : ''", "tickSize": {"condition": {"test": "datum.value % 2 === 0", "value": -7}, "value": -3.5}, "labelPadding": 11}},
       "y": {"field": "g", "type": "quantitative", "scale": {"domain": [0, 3], "nice": false}, "axis": {"orient": "left", "title": null, "values": [0,0.25,0.5,0.75,1,1.25,1.5,1.75,2,2.25,2.5,2.75,3], "format": "~g", "labelExpr": "datum.value % 0.5 === 0 ? datum.label : ''", "tickSize": {"condition": {"test": "datum.value % 0.5 === 0", "value": -7}, "value": -3.5}, "labelPadding": 10}}}},
     {"mark": {"type": "line", "color": "#ff2400", "strokeWidth": 1, "clip": true},
      "encoding": {
       "x": {"field": "t", "type": "quantitative", "axis": {"orient": "top", "title": null, "labels": false, "values": [0,1,2,3,4,5,6,7,8,9,10,11,12,13,14,15,16,17,18,19,20], "tickSize": {"condition": {"test": "datum.value % 2 === 0", "value": -7}, "value": -3.5}}},
       "y": {"field": "r", "type": "quantitative", "axis": {"orient": "right", "title": null, "labels": false, "values": [0,0.25,0.5,0.75,1,1.25,1.5,1.75,2,2.25,2.5,2.75,3], "tickSize": {"condition": {"test": "datum.value % 0.5 === 0", "value": -7}, "value": -3.5}}}}},
     {"data": {"values": [{"s": "c"}]}, "mark": {"type": "text", "align": "left", "baseline": "alphabetic", "font": "Liberation Sans", "fontSize": 29, "fontWeight": "bold", "color": "#000"},
      "encoding": {"x": {"datum": 0.61, "type": "quantitative", "axis": null}, "y": {"datum": 2.61, "type": "quantitative", "axis": null}, "text": {"field": "s"}}},
     {"data": {"values": [{"s": "R517K (nuc)"}]}, "mark": {"type": "text", "align": "left", "baseline": "alphabetic", "font": "Liberation Sans", "fontSize": 29, "fontWeight": "bold", "color": "#000"},
      "encoding": {"x": {"datum": 3.94, "type": "quantitative", "axis": null}, "y": {"datum": 2.61, "type": "quantitative", "axis": null}, "text": {"field": "s"}}}
    ],
    "resolve": {"axis": {"x": "independent", "y": "independent"}}},
   {"width": 426, "height": 297, "data": {"name": "b"},
    "layer": [
     {"mark": {"type": "line", "color": "#00ee00", "strokeWidth": 1, "clip": true},
      "encoding": {
       "x": {"field": "t", "type": "quantitative", "scale": {"domain": [0, 20], "nice": false}, "axis": {"orient": "bottom", "title": null, "values": [0,1,2,3,4,5,6,7,8,9,10,11,12,13,14,15,16,17,18,19,20], "format": "~g", "labelExpr": "datum.value % 2 === 0 ? datum.label : ''", "tickSize": {"condition": {"test": "datum.value % 2 === 0", "value": -7}, "value": -3.5}, "labelPadding": 11}},
       "y": {"field": "g", "type": "quantitative", "scale": {"domain": [0, 3], "nice": false}, "axis": {"orient": "left", "title": null, "values": [0,0.25,0.5,0.75,1,1.25,1.5,1.75,2,2.25,2.5,2.75,3], "format": "~g", "labelExpr": "datum.value % 0.5 === 0 ? datum.label : ''", "tickSize": {"condition": {"test": "datum.value % 0.5 === 0", "value": -7}, "value": -3.5}, "labelPadding": 10}}}},
     {"mark": {"type": "line", "color": "#ff2400", "strokeWidth": 1, "clip": true},
      "encoding": {
       "x": {"field": "t", "type": "quantitative", "axis": {"orient": "top", "title": null, "labels": false, "values": [0,1,2,3,4,5,6,7,8,9,10,11,12,13,14,15,16,17,18,19,20], "tickSize": {"condition": {"test": "datum.value % 2 === 0", "value": -7}, "value": -3.5}}},
       "y": {"field": "r", "type": "quantitative", "axis": {"orient": "right", "title": null, "labels": false, "values": [0,0.25,0.5,0.75,1,1.25,1.5,1.75,2,2.25,2.5,2.75,3], "tickSize": {"condition": {"test": "datum.value % 0.5 === 0", "value": -7}, "value": -3.5}}}}},
     {"data": {"values": [{"s": "b"}]}, "mark": {"type": "text", "align": "left", "baseline": "alphabetic", "font": "Liberation Sans", "fontSize": 29, "fontWeight": "bold", "color": "#000"},
      "encoding": {"x": {"datum": 0.94, "type": "quantitative", "axis": null}, "y": {"datum": 2.545, "type": "quantitative", "axis": null}, "text": {"field": "s"}}},
     {"data": {"values": [{"s": "R517K (cat + nuc)"}]}, "mark": {"type": "text", "align": "left", "baseline": "alphabetic", "font": "Liberation Sans", "fontSize": 29, "fontWeight": "bold", "color": "#000"},
      "encoding": {"x": {"datum": 4.23, "type": "quantitative", "axis": null}, "y": {"datum": 2.545, "type": "quantitative", "axis": null}, "text": {"field": "s"}}}
    ],
    "resolve": {"axis": {"x": "independent", "y": "independent"}}},
   {"width": 426, "height": 297, "data": {"name": "d"},
    "layer": [
     {"mark": {"type": "line", "color": "#00ee00", "strokeWidth": 1, "clip": true},
      "encoding": {
       "x": {"field": "t", "type": "quantitative", "scale": {"domain": [0, 20], "nice": false}, "axis": {"orient": "bottom", "title": null, "values": [0,1,2,3,4,5,6,7,8,9,10,11,12,13,14,15,16,17,18,19,20], "format": "~g", "labelExpr": "datum.value % 2 === 0 ? datum.label : ''", "tickSize": {"condition": {"test": "datum.value % 2 === 0", "value": -7}, "value": -3.5}, "labelPadding": 11}},
       "y": {"field": "g", "type": "quantitative", "scale": {"domain": [0, 3], "nice": false}, "axis": {"orient": "left", "title": null, "values": [0,0.25,0.5,0.75,1,1.25,1.5,1.75,2,2.25,2.5,2.75,3], "format": "~g", "labelExpr": "datum.value % 0.5 === 0 ? datum.label : ''", "tickSize": {"condition": {"test": "datum.value % 0.5 === 0", "value": -7}, "value": -3.5}, "labelPadding": 10}}}},
     {"mark": {"type": "line", "color": "#ff2400", "strokeWidth": 1, "clip": true},
      "encoding": {
       "x": {"field": "t", "type": "quantitative", "axis": {"orient": "top", "title": null, "labels": false, "values": [0,1,2,3,4,5,6,7,8,9,10,11,12,13,14,15,16,17,18,19,20], "tickSize": {"condition": {"test": "datum.value % 2 === 0", "value": -7}, "value": -3.5}}},
       "y": {"field": "r", "type": "quantitative", "axis": {"orient": "right", "title": null, "labels": false, "values": [0,0.25,0.5,0.75,1,1.25,1.5,1.75,2,2.25,2.5,2.75,3], "tickSize": {"condition": {"test": "datum.value % 0.5 === 0", "value": -7}, "value": -3.5}}}}},
     {"data": {"values": [{"s": "d"}]}, "mark": {"type": "text", "align": "left", "baseline": "alphabetic", "font": "Liberation Sans", "fontSize": 29, "fontWeight": "bold", "color": "#000"},
      "encoding": {"x": {"datum": 0.61, "type": "quantitative", "axis": null}, "y": {"datum": 2.545, "type": "quantitative", "axis": null}, "text": {"field": "s"}}},
     {"data": {"values": [{"s": "R517A"}]}, "mark": {"type": "text", "align": "left", "baseline": "alphabetic", "font": "Liberation Sans", "fontSize": 29, "fontWeight": "bold", "color": "#000"},
      "encoding": {"x": {"datum": 8.4, "type": "quantitative", "axis": null}, "y": {"datum": 2.545, "type": "quantitative", "axis": null}, "text": {"field": "s"}}}
    ],
    "resolve": {"axis": {"x": "independent", "y": "independent"}}}
  ]}
 ]}
]
}
